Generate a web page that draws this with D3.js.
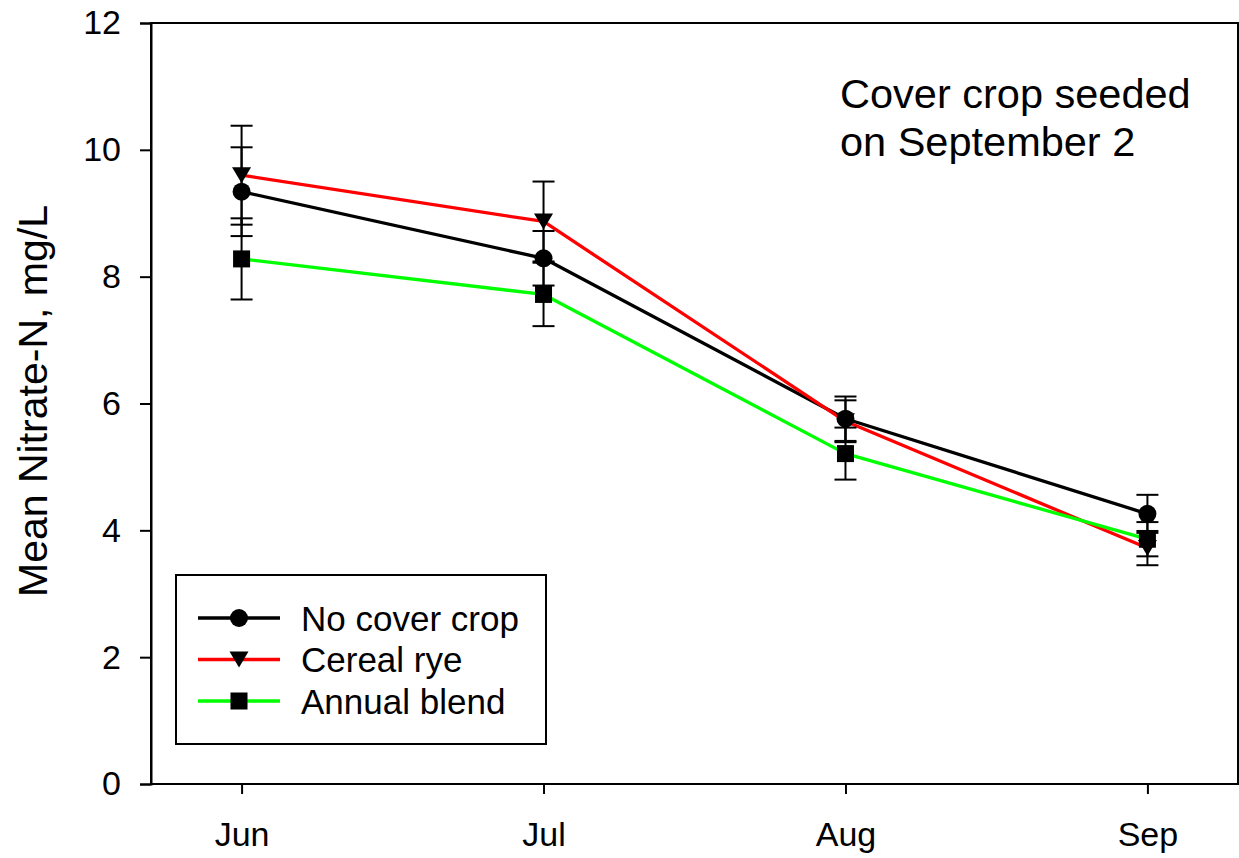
<!DOCTYPE html>
<html>
<head>
<meta charset="utf-8">
<script src="https://cdn.jsdelivr.net/npm/d3@7"></script>
<style>
  html, body { margin: 0; padding: 0; background: #fff; }
  svg { display: block; font-family: "Liberation Sans", Arial, sans-serif; }
</style>
</head>
<body>
<svg id="chart" width="1239" height="858"></svg>
<script>
// ---- data ----
const months = ["Jun", "Jul", "Aug", "Sep"];
const yTicks = [0, 2, 4, 6, 8, 10, 12];
const seriesNames = ["No cover crop", "Cereal rye", "Annual blend"];
const noCover = [9.34, 8.29, 5.76, 4.26];
const noCoverSE = [0.70, 0.43, 0.35, 0.30];
const cerealRye = [9.60, 8.87, 5.72, 3.72];
const cerealRyeSE = [0.78, 0.63, 0.33, 0.27];
const annualBlend = [8.28, 7.72, 5.21, 3.86];
const annualBlendSE = [0.64, 0.50, 0.41, 0.27];
const annotation = ["Cover crop seeded", "on September 2"];
const yLabel = "Mean Nitrate-N, mg/L";

// ---- layout ----
const svg = d3.select("#chart");
const L = 151, R = 1238, T = 23, B = 784;
const x = d3.scaleLinear().domain([-0.3, 3.3]).range([L, R]);
const y = d3.scaleLinear().domain([0, 12]).range([B, T]);

const series = [
  { name: seriesNames[0], values: noCover, se: noCoverSE, color: "#000000", marker: "circle" },
  { name: seriesNames[1], values: cerealRye, se: cerealRyeSE, color: "#ff0000", marker: "triangle" },
  { name: seriesNames[2], values: annualBlend, se: annualBlendSE, color: "#00ff00", marker: "square" }
];

function drawMarker(g, type, cx, cy) {
  if (type === "circle") {
    g.append("circle").attr("cx", cx).attr("cy", cy).attr("r", 9).attr("fill", "#000");
  } else if (type === "triangle") {
    const w = 19, h = 16;
    g.append("path")
      .attr("d", `M${cx - w / 2},${cy - h / 2}L${cx + w / 2},${cy - h / 2}L${cx},${cy + h / 2}Z`)
      .attr("fill", "#000");
  } else {
    const s = 17;
    g.append("rect").attr("x", cx - s / 2).attr("y", cy - s / 2).attr("width", s).attr("height", s).attr("fill", "#000");
  }
}

// ---- frame & axes ----
svg.append("rect").attr("x", L).attr("y", T).attr("width", R - L).attr("height", B - T)
  .attr("fill", "none").attr("stroke", "#000").attr("stroke-width", 2);

const yAxis = svg.append("g").attr("transform", `translate(${L},0)`)
  .call(d3.axisLeft(y).tickValues(yTicks).tickSize(11).tickPadding(19).tickFormat(d3.format("d")));
yAxis.select(".domain").attr("stroke-width", 2);
yAxis.selectAll(".tick line").attr("stroke-width", 2);
yAxis.selectAll("text").attr("font-size", 34).attr("fill", "#000")
  .attr("font-family", "'Liberation Sans', Arial, sans-serif");

const xAxis = svg.append("g").attr("transform", `translate(0,${B})`)
  .call(d3.axisBottom(x).tickValues(d3.range(months.length)).tickSize(10).tickPadding(28)
    .tickFormat(i => months[i]));
xAxis.select(".domain").remove();
xAxis.selectAll(".tick line").attr("stroke-width", 2);
xAxis.selectAll("text").attr("font-size", 34).attr("fill", "#000")
  .attr("font-family", "'Liberation Sans', Arial, sans-serif");

// y label
svg.append("text")
  .attr("transform", `translate(47,${(202 + 600) / 2}) rotate(-90)`)
  .attr("text-anchor", "middle")
  .attr("font-size", 41)
  .text(yLabel);

// ---- lines ----
const line = d3.line().x((d, i) => x(i)).y(d => y(d));
series.forEach(s => {
  svg.append("path").datum(s.values).attr("d", line)
    .attr("fill", "none").attr("stroke", s.color).attr("stroke-width", 3.3)
    .attr("stroke-linejoin", "round");
});

// ---- error bars ----
const cap = 11;
const eg = svg.append("g").attr("stroke", "#000").attr("stroke-width", 2);
series.forEach(s => {
  s.values.forEach((v, i) => {
    const cx = x(i), hi = y(v + s.se[i]), lo = y(v - s.se[i]);
    eg.append("line").attr("x1", cx).attr("x2", cx).attr("y1", hi).attr("y2", lo);
    eg.append("line").attr("x1", cx - cap).attr("x2", cx + cap).attr("y1", hi).attr("y2", hi);
    eg.append("line").attr("x1", cx - cap).attr("x2", cx + cap).attr("y1", lo).attr("y2", lo);
  });
});

// ---- markers ----
const mg = svg.append("g");
series.forEach(s => {
  s.values.forEach((v, i) => drawMarker(mg, s.marker, x(i), y(v)));
});

// ---- annotation ----
const ann = svg.append("text").attr("font-size", 41.5).attr("fill", "#000");
annotation.forEach((t, i) => {
  ann.append("tspan").attr("x", 840).attr("y", 108 + i * 48).text(t);
});

// ---- legend ----
const lg = svg.append("g");
lg.append("rect").attr("x", 176).attr("y", 575).attr("width", 370).attr("height", 169)
  .attr("fill", "#fff").attr("stroke", "#000").attr("stroke-width", 2);
const rowY = [618, 659.5, 701];
series.forEach((s, i) => {
  lg.append("line").attr("x1", 198).attr("x2", 280).attr("y1", rowY[i]).attr("y2", rowY[i])
    .attr("stroke", s.color).attr("stroke-width", 3.3);
  drawMarker(lg, s.marker, 239, rowY[i]);
  lg.append("text").attr("x", 301).attr("y", rowY[i]).attr("dy", "0.36em")
    .attr("font-size", 35).text(s.name);
});
</script>
</body>
</html>
